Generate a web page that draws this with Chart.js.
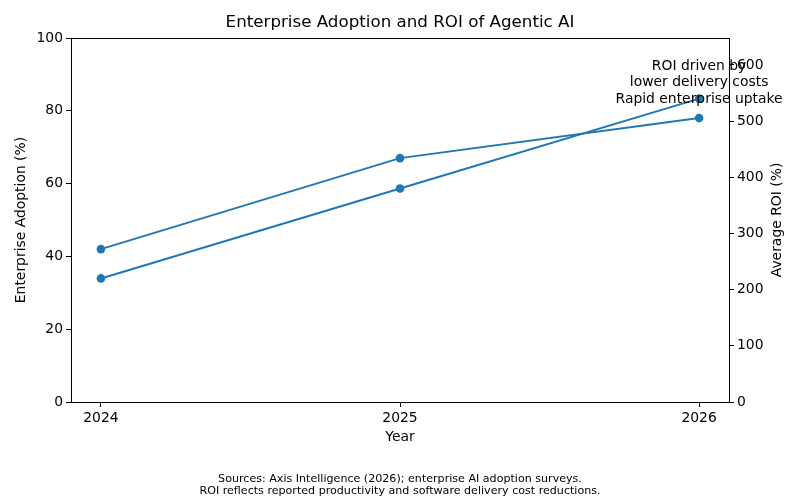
<!DOCTYPE html>
<html>
<head>
<meta charset="utf-8">
<script src="https://cdn.jsdelivr.net/npm/chart.js@4"></script>
<style>
  html, body { margin: 0; padding: 0; background: #fff; }
  #c { display: block; }
</style>
</head>
<body>
<canvas id="c" width="800" height="500"></canvas>
<script>
const years = [2024, 2025, 2026];
const adoption = [42, 67, 78];
const roi = [220, 380, 540];
const leftTicks = [0, 20, 40, 60, 80, 100];
const rightTicks = [0, 100, 200, 300, 400, 500, 600];
const titleText = 'Enterprise Adoption and ROI of Agentic AI';
const xLabel = 'Year';
const yLeftLabel = 'Enterprise Adoption (%)';
const yRightLabel = 'Average ROI (%)';
const adoptionNote = ['Rapid enterprise uptake'];
const roiNote = ['ROI driven by', 'lower delivery costs'];
const footer = ['Sources: Axis Intelligence (2026); enterprise AI adoption surveys.',
                'ROI reflects reported productivity and software delivery cost reductions.'];

const BLUE = '#1f77b4';
const FONT = 'DejaVu Sans';

const textPlugin = {
  id: 'texts',
  afterDraw(chart) {
    const ctx = chart.ctx;
    const a = chart.chartArea;
    const x = chart.scales.x, yl = chart.scales.y, yr = chart.scales.y2;
    ctx.save();
    // top spine
    ctx.strokeStyle = '#000';
    ctx.lineWidth = 1;
    ctx.beginPath();
    ctx.moveTo(a.left, Math.round(a.top) + 0.5);
    ctx.lineTo(a.right, Math.round(a.top) + 0.5);
    ctx.stroke();
    ctx.fillStyle = '#000';
    ctx.textAlign = 'center';
    ctx.textBaseline = 'middle';
    ctx.font = '16.7px "' + FONT + '"';
    ctx.fillText(titleText, (a.left + a.right) / 2, 23);
    ctx.font = '13.9px "' + FONT + '"';
    ctx.fillText(xLabel, (a.left + a.right) / 2, 437);
    ctx.save();
    ctx.translate(21, (a.top + a.bottom) / 2);
    ctx.rotate(-Math.PI / 2);
    ctx.fillText(yLeftLabel, 0, 0);
    ctx.restore();
    ctx.save();
    ctx.translate(777, (a.top + a.bottom) / 2);
    ctx.rotate(-Math.PI / 2);
    ctx.fillText(yRightLabel, 0, 0);
    ctx.restore();
    // annotations
    const ix = years.length - 1;
    const px = x.getPixelForValue(years[ix]);
    const pa = yl.getPixelForValue(adoption[ix]);
    adoptionNote.forEach((t, i) => ctx.fillText(t, px, pa - 19 - (adoptionNote.length - 1 - i) * 16));
    const pr = yr.getPixelForValue(roi[ix]);
    roiNote.forEach((t, i) => ctx.fillText(t, px, pr - 16 - (roiNote.length - 1 - i) * 16));
    // footer
    ctx.font = '11.1px "' + FONT + '"';
    footer.forEach((t, i) => ctx.fillText(t, 400, 479 + i * 12.5));
    ctx.restore();
  }
};

new Chart(document.getElementById('c'), {
  type: 'line',
  data: {
    datasets: [
      {
        label: 'Adoption',
        data: years.map((y, i) => ({ x: y, y: adoption[i] })),
        yAxisID: 'y',
        borderColor: BLUE, backgroundColor: BLUE,
        borderWidth: 2, pointRadius: 4.3, pointHoverRadius: 4.3,
        pointBorderWidth: 0, tension: 0
      },
      {
        label: 'ROI',
        data: years.map((y, i) => ({ x: y, y: roi[i] })),
        yAxisID: 'y2',
        borderColor: BLUE, backgroundColor: BLUE,
        borderWidth: 2, pointRadius: 4.3, pointHoverRadius: 4.3,
        pointBorderWidth: 0, tension: 0
      }
    ]
  },
  options: {
    responsive: false,
    animation: false,
    devicePixelRatio: 1,
    layout: { padding: { top: 38, left: 0, right: 0, bottom: 0 } },
    plugins: { legend: { display: false }, title: { display: false }, tooltip: { enabled: false } },
    scales: {
      x: {
        type: 'linear',
        min: 2023.9, max: 2026.1,
        afterBuildTicks: s => { s.ticks = years.map(v => ({ value: v })); },
        afterFit: s => { s.height = 98; },
        grid: { drawOnChartArea: false, drawTicks: true, tickLength: 5, color: '#000', tickColor: '#000' },
        border: { display: true, color: '#000', width: 1 },
        ticks: { color: '#000', font: { family: FONT, size: 13.9 }, padding: 3, maxRotation: 0,
                 callback: v => String(v) }
      },
      y: {
        position: 'left',
        min: 0, max: 100,
        afterBuildTicks: s => { s.ticks = leftTicks.map(v => ({ value: v })); },
        afterFit: s => { s.width = 71; },
        grid: { drawOnChartArea: false, drawTicks: true, tickLength: 5, color: '#000', tickColor: '#000' },
        border: { display: true, color: '#000', width: 1 },
        ticks: { color: '#000', font: { family: FONT, size: 13.9 }, padding: 3, callback: v => String(v) }
      },
      y2: {
        position: 'right',
        min: 0, max: 648,
        afterBuildTicks: s => { s.ticks = rightTicks.map(v => ({ value: v })); },
        afterFit: s => { s.width = 71; },
        grid: { drawOnChartArea: false, drawTicks: true, tickLength: 5, color: '#000', tickColor: '#000' },
        border: { display: true, color: '#000', width: 1 },
        ticks: { color: '#000', font: { family: FONT, size: 13.9 }, padding: 3, callback: v => String(v) }
      }
    }
  },
  plugins: [textPlugin]
});
</script>
</body>
</html>
